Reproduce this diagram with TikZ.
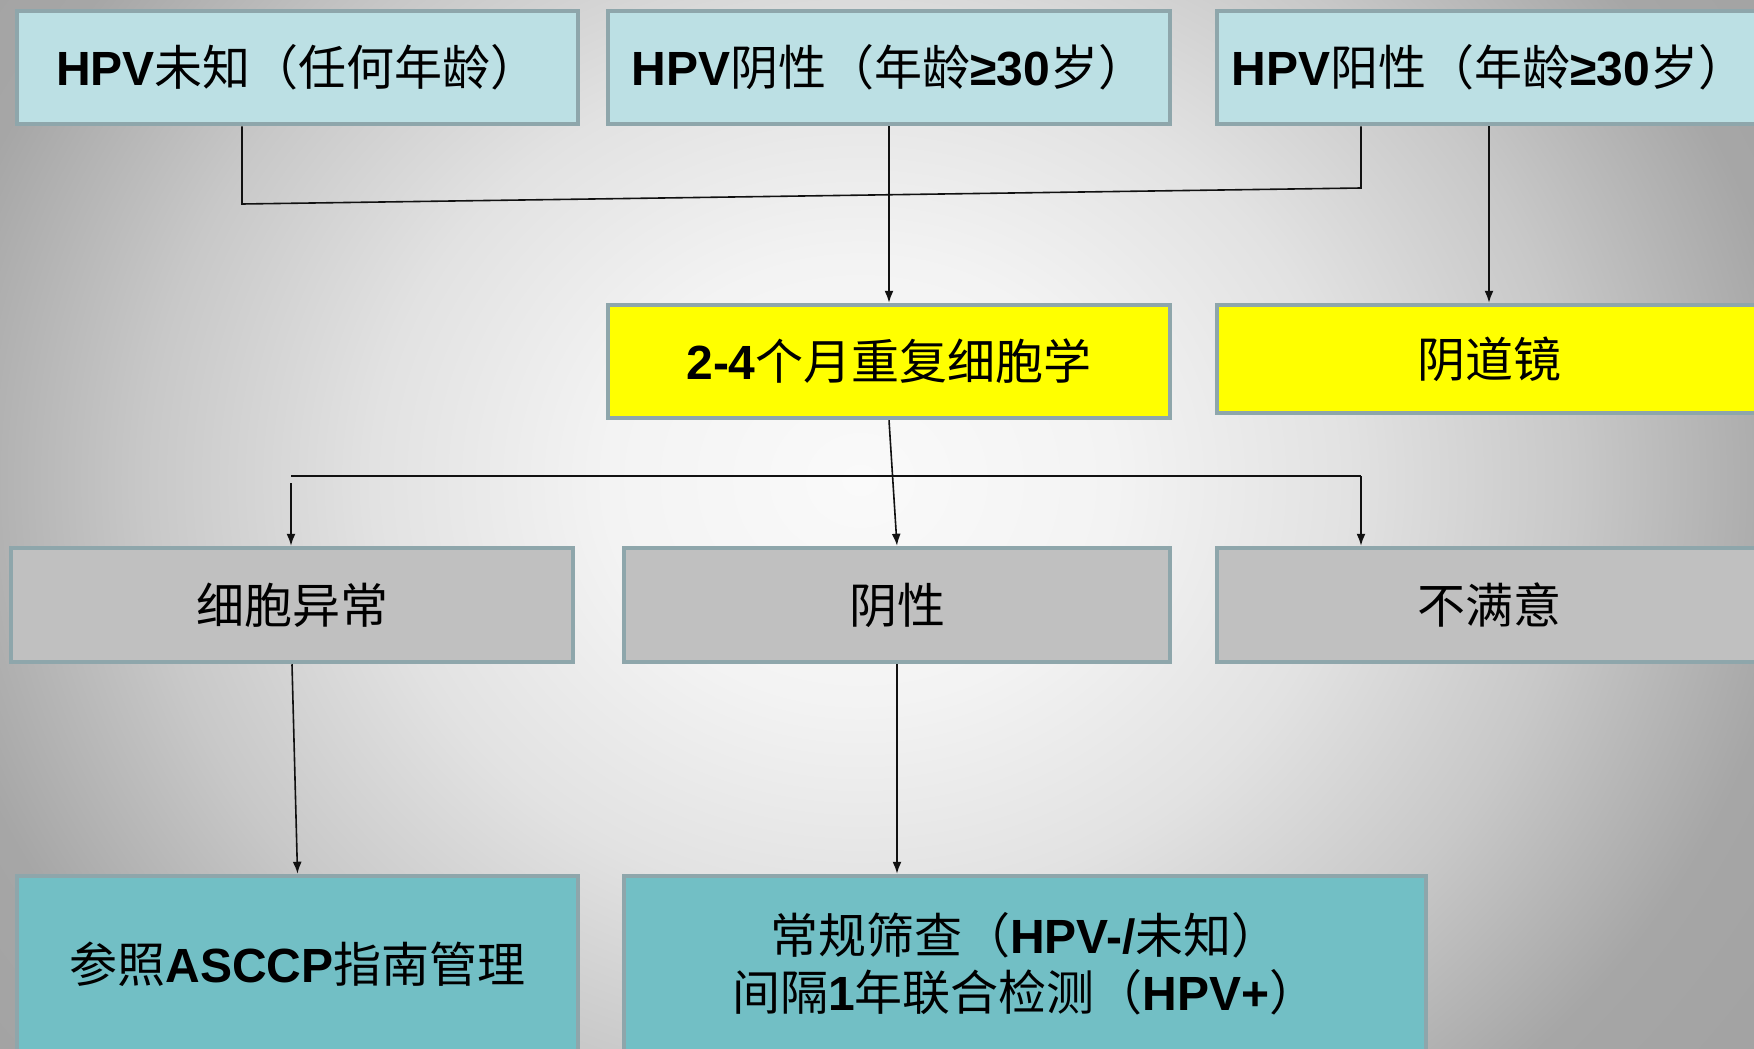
\documentclass[tikz,border=0pt]{standalone}
\usepackage{fontspec}
\setmainfont{Liberation Sans}
\newfontfamily\cjk{Noto Sans CJK SC}
\newfontfamily\latf{Liberation Sans}
\usetikzlibrary{arrows.meta}
\definecolor{topc}{HTML}{BCE0E4}
\definecolor{yelc}{HTML}{FFFF00}
\definecolor{grayc}{HTML}{C0C0C0}
\definecolor{tealc}{HTML}{72BFC5}
\definecolor{bordc}{HTML}{8EA6AB}
\definecolor{linec}{HTML}{111111}
\definecolor{bga}{HTML}{FAFAFA}
\definecolor{bgb}{HTML}{F3F3F3}
\definecolor{bgc}{HTML}{E2E2E2}
\definecolor{bgd}{HTML}{C8C8C8}
\definecolor{bge}{HTML}{A6A6A6}
\definecolor{bgf}{HTML}{9E9E9E}
\pgfdeclareradialshading{bgshade}{\pgfpoint{0bp}{0bp}}{color(0bp)=(bga); color(4.8bp)=(bgb); color(9.2bp)=(bgc); color(13.5bp)=(bgd); color(17.8bp)=(bge); color(25bp)=(bgf); color(50bp)=(bgf)}
\newcommand{\lat}[1]{{\latf\bfseries #1}}
\tikzset{
  box/.style={draw=bordc, line width=4.5pt, rectangle, inner sep=0pt,
    font=\cjk\fontsize{48}{57}\selectfont, text=black, align=center},
  topbox/.style={box, fill=topc, minimum height=113pt},
  yelbox/.style={box, fill=yelc},
  graybox/.style={box, fill=grayc, minimum height=114pt},
  tealbox/.style={box, fill=tealc, minimum height=176pt},
  conn/.style={draw=linec, line width=1.6pt},
  arr/.style={conn, -{Latex[length=12pt,width=9pt]}}
}
\begin{document}
\begin{tikzpicture}[x=1pt,y=-1pt]
\useasboundingbox (0,0) rectangle (1754,1049);
\clip (0,0) rectangle (1754,1049);
\shade[shading=bgshade] (-465,-672) rectangle (2185,1632);

% top row
\node[topbox, minimum width=561pt] (b1) at (297.5,67.5) {\lat{HPV}未知（任何年龄）};
\node[topbox, minimum width=562pt] (b2) at (889,67.5) {\lat{HPV}阴性（年龄\lat{≥30}岁）};
\node[topbox, minimum width=544pt] (b3) at (1489,67.5) {\lat{HPV}阳性（年龄\lat{≥30}岁）};

% yellow row
\node[yelbox, minimum width=562pt, minimum height=113pt] (y1) at (889,361.5) {\lat{2-4}个月重复细胞学};
\node[yelbox, minimum width=544pt, minimum height=108pt] (y2) at (1489,359) {阴道镜};

% gray row
\node[graybox, minimum width=562pt] (g1) at (292,605) {细胞异常};
\node[graybox, minimum width=546pt] (g2) at (897,605) {阴性};
\node[graybox, minimum width=544pt] (g3) at (1489,605) {不满意};

% bottom row
\node[tealbox, minimum width=561pt] (r1) at (297.5,964) {参照\lat{ASCCP}指南管理};
\node[tealbox, minimum width=802pt] (r2) at (1025,964) {常规筛查（\lat{HPV-/}未知）\\间隔\lat{1}年联合检测（\lat{HPV+}）};

% connectors
\coordinate (j1) at (242,204);
\coordinate (j2) at (1361,188);
\draw[conn] ([xshift=-55.5pt]b1.south) -- (j1) -- (j2) -- (j2 |- b3.south);
\draw[arr] (b2.south) -- (y1.north);
\draw[arr] (b3.south) -- (y2.north);
\draw[arr] (y1.south) -- (g2.north);

\coordinate (k1) at (291,476);
\coordinate (k2) at (1361,476);
\coordinate (k1s) at (291,483);
\draw[conn] (k1) -- (k2);
\draw[arr] (k1s) -- (k1s |- g1.north);
\draw[arr] (k2) -- (k2 |- g3.north);

\draw[arr] (g1.south) -- (r1.north);
\draw[arr] (g2.south) -- (g2.south |- r2.north);
\end{tikzpicture}
\end{document}
